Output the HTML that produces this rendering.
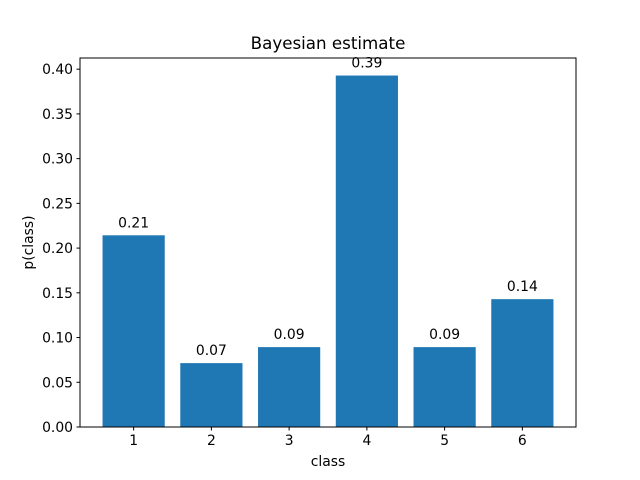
<!DOCTYPE html>
<html><head><meta charset="utf-8"><style>
body{margin:0;background:#fff}
svg{display:block;font-family:"DejaVu Sans","Liberation Sans",sans-serif}
</style></head><body>
<svg id="chart" width="640" height="480">
<rect width="640" height="480" fill="#fff"/>
<g id="bars"></g>
<g id="axes"></g>
</svg>
<script>
const categories = ["1","2","3","4","5","6"];
const values = [0.2143, 0.0714, 0.0893, 0.3929, 0.0893, 0.1429];
const valueLabels = ["0.21","0.07","0.09","0.39","0.09","0.14"];
const yTicks = [0,0.05,0.10,0.15,0.20,0.25,0.30,0.35,0.40];
const yTickLabels = ["0.00","0.05","0.10","0.15","0.20","0.25","0.30","0.35","0.40"];

const L=80,R=576,T=58,B=427;
const xmin=0.31,xmax=6.69,ymin=0,ymax=0.4125;
const xs=v=>L+(v-xmin)/(xmax-xmin)*(R-L);
const ys=v=>B-(v-ymin)/(ymax-ymin)*(B-T);
const NS="http://www.w3.org/2000/svg";
function mk(tag,attrs,parent,text){const e=document.createElementNS(NS,tag);for(const k in attrs)e.setAttribute(k,attrs[k]);if(text!==undefined)e.textContent=text;parent.appendChild(e);return e;}
const bars=document.getElementById('bars'),axes=document.getElementById('axes');
values.forEach((v,i)=>{
  const x=i+1;
  const r=mk('rect',{x:xs(x-0.4),y:ys(v),width:xs(x+0.4)-xs(x-0.4),height:ys(0)-ys(v),fill:'#1f77b4'},bars);
  
  
  const t=mk('text',{x:xs(x),y:ys(v)-8,'text-anchor':'middle','font-size':'13.9',fill:'#000'},bars,valueLabels[i]);
  
  
});
const frame=mk('rect',{x:L,y:T,width:R-L,height:B-T,fill:'none',stroke:'#000','stroke-width':1},axes);


categories.forEach((c,i)=>{
  const x=xs(i+1);
  mk('line',{x1:x,x2:x,y1:B,y2:B+3.5,stroke:'#000'},axes);
  const t=mk('text',{x:x,y:B+18,'text-anchor':'middle','font-size':'13.9'},axes,c);
  
  
});
yTicks.forEach((v,i)=>{
  const y=ys(v);
  mk('line',{x1:L-3.5,x2:L,y1:y,y2:y,stroke:'#000'},axes);
  const t=mk('text',{x:L-7,y:y+5,'text-anchor':'end','font-size':'13.9'},axes,yTickLabels[i]);
  
  
});
let t=mk('text',{x:(L+R)/2,y:466,'text-anchor':'middle','font-size':'13.9'},axes,'class');


t=mk('text',{x:33,y:(T+B)/2,'text-anchor':'middle','font-size':'13.9',transform:'rotate(-90 33 '+((T+B)/2)+')'},axes,'p(class)');


t=mk('text',{x:(L+R)/2,y:49,'text-anchor':'middle','font-size':'16.7'},axes,'Bayesian estimate');


</script>
</body></html>
